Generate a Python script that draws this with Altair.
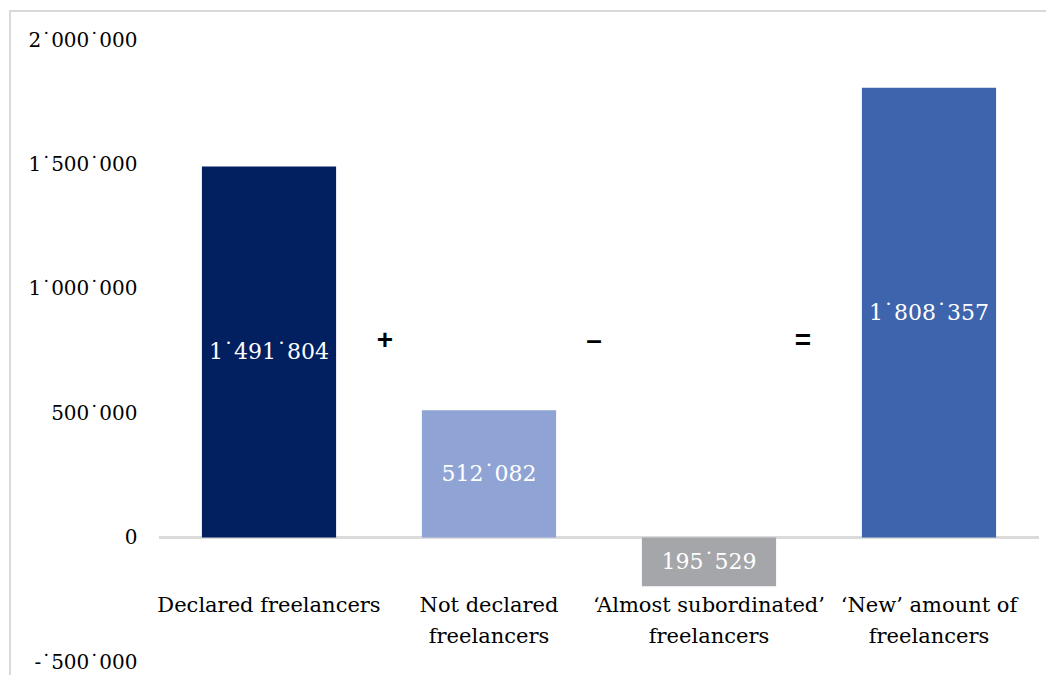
import altair as alt
import pandas as pd

# ---- data ----
categories = ["Declared freelancers", "Not declared freelancers",
              "‘Almost subordinated’ freelancers", "‘New’ amount of freelancers"]
category_lines = ["Declared freelancers", "Not declared\nfreelancers",
                  "‘Almost subordinated’\nfreelancers", "‘New’ amount of\nfreelancers"]
values = [1491804, 512082, -195529, 1808357]
value_labels = ["1˙491˙804", "512˙082", "195˙529", "1˙808˙357"]
bar_colors = ["#02205F", "#8FA4D4", "#A4A6AA", "#3D64AC"]
operators = ["+", "–", "="]
operator_after = categories[:3]
operator_level = 790000
category_label_level = -300000
tick_values = [-500000, 0, 500000, 1000000, 1500000, 2000000]
tick_labels = ["-˙500˙000", "0", "500˙000", "1˙000˙000", "1˙500˙000", "2˙000˙000"]

df = pd.DataFrame({
    "cat": categories,
    "lines": category_lines,
    "value": values,
    "mid": [v / 2 for v in values],
    "label": value_labels,
    "color": bar_colors,
    "lvl": [category_label_level] * 4,
})

SERIF = "DejaVu Serif"
W, H = 880, 622

label_expr = " : ".join(
    [f"datum.value == {v} ? '{l}'" for v, l in zip(tick_values, tick_labels)] + ["''"]
)

xscale = alt.Scale(domain=categories, paddingInner=0.39, paddingOuter=0.195)
yscale = alt.Scale(domain=[-500000, 2000000], nice=False, zero=False)

x_enc = alt.X("cat:N", scale=xscale, axis=None, sort=categories)
y_axis = alt.Axis(values=tick_values, labelExpr=label_expr, grid=False, domain=False,
                  ticks=False, title=None, labelFont=SERIF, labelFontSize=20,
                  labelColor="#000000", labelPadding=22)

bars = alt.Chart(df).mark_bar().encode(
    x=x_enc,
    y=alt.Y("value:Q", scale=yscale, axis=y_axis),
    color=alt.Color("color:N", scale=None, legend=None),
)

zero_line = alt.Chart(df).mark_rule(color="#D9D9D9", strokeWidth=2).encode(
    y=alt.datum(0, type="quantitative"), x=alt.value(0), x2=alt.value(W)
)

value_text = alt.Chart(df).mark_text(
    font=SERIF, fontSize=22, color="white", baseline="middle"
).encode(x=x_enc, y=alt.Y("mid:Q"), text="label:N")

cat_text = alt.Chart(df).mark_text(
    font=SERIF, fontSize=21, color="#000000", baseline="alphabetic",
    lineBreak="\n", lineHeight=31
).encode(x=x_enc, y=alt.Y("lvl:Q"), text="lines:N")

op_dx = [116, 105, 94]
op_layers = []
for op, cat, dx in zip(operators, operator_after, op_dx):
    odf = pd.DataFrame({"cat": [cat], "op": [op], "lvl": [operator_level]})
    op_layers.append(
        alt.Chart(odf).mark_text(
            font="Liberation Sans", fontWeight="bold", fontSize=28, color="#000000",
            baseline="middle", dx=dx
        ).encode(x=x_enc, y=alt.Y("lvl:Q"), text="op:N")
    )

# outer frame (left and top edges of the chart box)
frame_v = alt.Chart(df).mark_rule(color="#D9D9D9", strokeWidth=2).encode(
    x=alt.value(-149), y=alt.value(-29), y2=alt.value(H + 100)
)
frame_h = alt.Chart(df).mark_rule(color="#D9D9D9", strokeWidth=2).encode(
    x=alt.value(-150), x2=alt.value(W + 200), y=alt.value(-29)
)

chart = alt.layer(
    frame_v, frame_h, zero_line, bars, value_text, cat_text, *op_layers
).properties(
    width=W, height=H,
    autosize=alt.AutoSizeParams(type="none"),
    padding={"left": 151, "top": 32, "right": 7, "bottom": 13},
).configure(background="white").configure_view(stroke=None, strokeWidth=0)

chart.save("out.html", embed_options={"renderer": "svg", "actions": False})
